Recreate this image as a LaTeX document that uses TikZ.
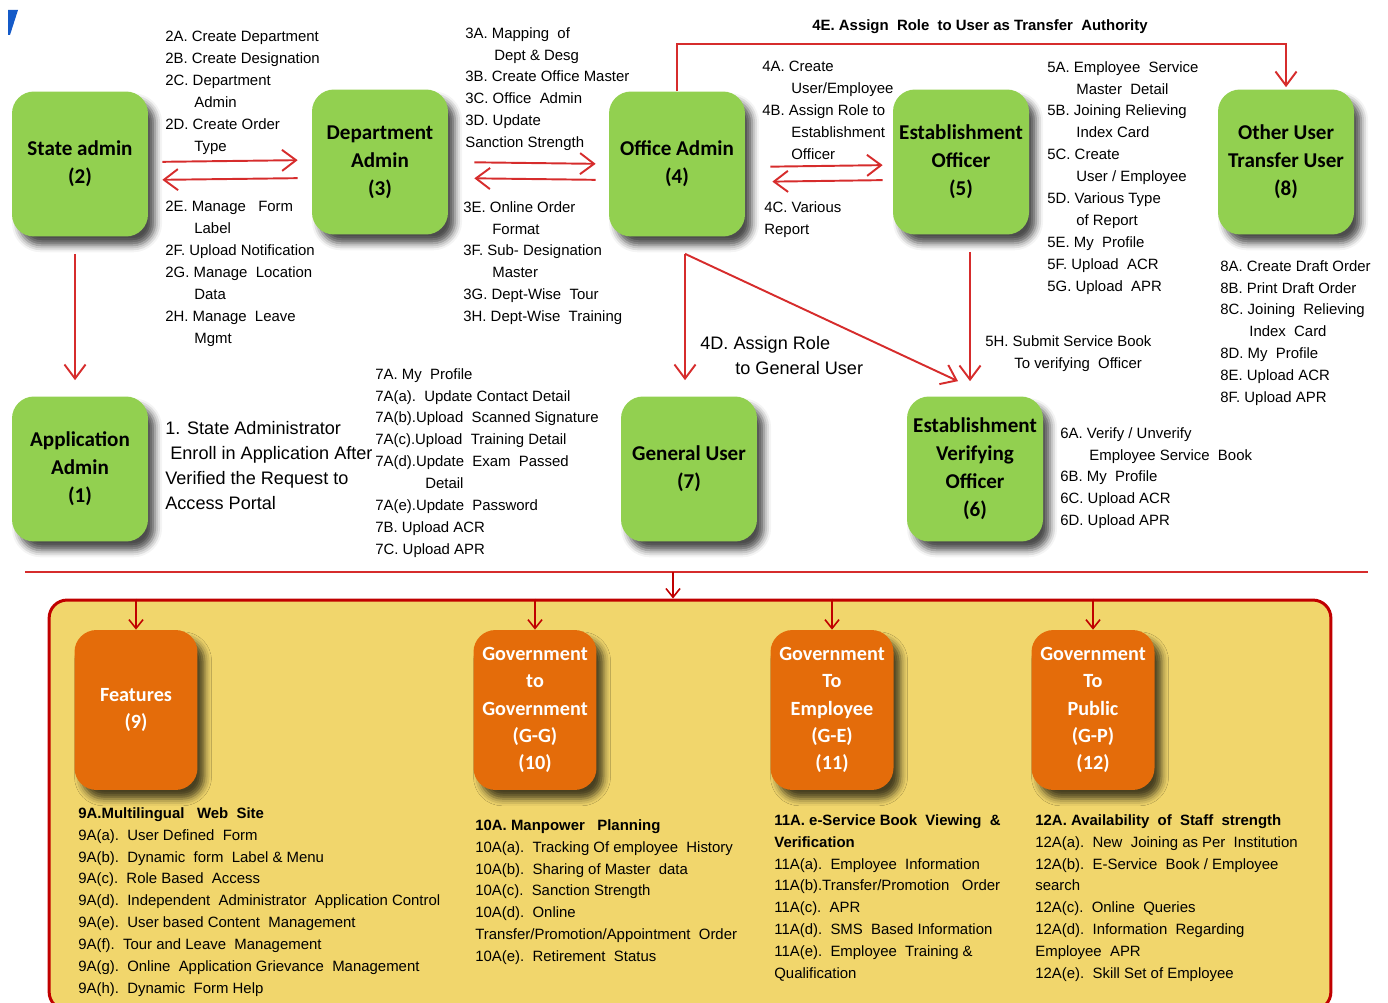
\documentclass[tikz,border=0pt]{standalone}
\usepackage{fontspec}
\setmainfont{Liberation Sans}
\newfontfamily\boxfont{Carlito}
\usetikzlibrary{arrows.meta, shadows.blur}
\definecolor{boxgreen}{RGB}{146,208,80}
\definecolor{boxorange}{RGB}{228,108,10}
\definecolor{panelyellow}{RGB}{241,214,108}
\definecolor{panelred}{RGB}{192,0,0}
\definecolor{linkred}{RGB}{214,44,44}
\definecolor{markblue}{RGB}{20,90,200}
\newcommand{\indnt}{\hspace*{0.58cm}}

\begin{document}
\begin{tikzpicture}[x=0.02cm, y=-0.02cm,
  main node/.style={rounded corners=0.44cm, fill=boxgreen, minimum width=2.72cm,
    minimum height=2.9cm, align=center, inner sep=2pt,
    blur shadow={shadow xshift=4pt, shadow yshift=-5pt, shadow blur radius=4pt, shadow opacity=70},
    font=\fontsize{12}{16}\boxfont\bfseries},
  feat node/.style={main node, fill=boxorange, text=white, minimum width=2.46cm,
    minimum height=3.2cm, font=\fontsize{11.5}{15.5}\boxfont\bfseries},
  note/.style={anchor=north west, inner sep=0pt, align=left, text=black,
    font=\fontsize{8.5}{12.47}\selectfont},
  big note/.style={note, font=\fontsize{10.3}{14.2}\selectfont},
  link/.style={draw=linkred, line width=1.1pt, -{Straight Barb[length=8pt,width=12pt]}},
  small link/.style={draw=panelred, line width=0.9pt, -{Straight Barb[length=5pt,width=8pt]}}]

  \useasboundingbox (0,0) rectangle (1388,1003);
  \fill[markblue] (8,10) -- (18,10) -- (10,35) -- (8,35) -- cycle;

  \node[draw=panelred, line width=1.7pt, fill=panelyellow, rounded corners=0.36cm,
    minimum width=25.64cm, minimum height=8.2cm, inner sep=0pt] (panel) at (690,805) {};

  \node[main node] (2) at (80,164) {State admin\\(2)};
  \node[main node] (3) at (380,162) {Department\\Admin\\(3)};
  \node[main node] (4) at (677,164) {Office Admin\\(4)};
  \node[main node] (5) at (961,162) {Establishment\\Officer\\(5)};
  \node[main node] (8) at (1286,162) {Other User\\Transfer User\\(8)};
  \node[main node] (1) at (80,469) {Application\\Admin\\(1)};
  \node[main node] (7) at (689,469) {General User\\(7)};
  \node[main node] (6) at (975,469) {Establishment\\Verifying\\Officer\\(6)};

  \node[feat node] (9) at (136,710) {Features\\(9)};
  \node[feat node] (10) at (535,710) {Government\\to\\Government\\(G-G)\\(10)};
  \node[feat node] (11) at (832,710) {Government\\To\\Employee\\(G-E)\\(11)};
  \node[feat node] (12) at (1093,710) {Government\\To\\Public\\(G-P)\\(12)};

  \draw[link, shorten <=0.28cm, shorten >=0.28cm] ([yshift=0.04cm]2.east) -- ([yshift=0.04cm]3.west);
  \draw[link, shorten <=0.28cm, shorten >=0.28cm] ([yshift=-0.32cm]3.west) -- ([yshift=-0.32cm]2.east);
  \draw[link, shorten <=0.52cm, shorten >=0.26cm] (3.east) -- (4.west);
  \draw[link, shorten <=0.26cm, shorten >=0.52cm] ([yshift=-0.32cm]4.west) -- ([yshift=-0.32cm]3.east);
  \draw[link, shorten <=0.5cm, shorten >=0.2cm] ([yshift=-0.06cm]4.east) -- ([yshift=-0.06cm]5.west);
  \draw[link, shorten <=0.2cm, shorten >=0.54cm] ([yshift=-0.36cm]5.west) -- ([yshift=-0.36cm]4.east);
  \draw[link, shorten >=0.04cm] (4.north) -- ++(0,-47) -| (8.north);
  \draw[link, shorten <=0.34cm, shorten >=0.32cm] ([xshift=-0.1cm]2.south) -- ([xshift=-0.1cm]1.north);
  \draw[link, shorten <=0.34cm, shorten >=0.32cm] ([xshift=0.16cm]4.south) -- ([xshift=0.16cm]4.south |- 7.north);
  \draw[link] ([xshift=0.16cm,yshift=-0.34cm]4.south) -- ([xshift=-0.34cm,yshift=0.3cm]6.north);
  \draw[link, shorten <=0.34cm, shorten >=0.3cm] ([xshift=0.18cm]5.south) -- ([xshift=0.18cm]5.south |- 6.north);

  \coordinate (bar-l) at (25,572);
  \coordinate (bar-r) at (1368,572);
  \coordinate (bar-m) at (673,572);
  \draw[draw=linkred, line width=1.1pt] (bar-l) -- (bar-r);
  \draw[small link] (bar-m) -- (bar-m |- panel.north);
  \foreach \n in {9,10,11,12}
    \draw[small link] (\n.north |- panel.north) -- (\n.north);

  \node[note] (t2a) at (165,31) {2A. Create Department\\2B. Create Designation\\2C. Department\\\indnt Admin\\2D. Create Order\\\indnt Type};
  \node[note] (t2e) at (165,201) {2E. Manage\ \ \ Form\\\indnt Label\\2F. Upload Notification\\2G. Manage\ \ Location\\\indnt Data\\2H. Manage\ \ Leave\\\indnt Mgmt};
  \node[note] (t3a) at (465,27) {3A. Mapping\ \ of\\\indnt Dept \& Desg\\3B. Create Office Master\\3C. Office\ \ Admin\\3D. Update\\Sanction Strength};
  \node[note] (t3e) at (463,201) {3E. Online Order\\\indnt Format\\3F. Sub- Designation\\\indnt Master\\3G. Dept-Wise\ \ Tour\\3H. Dept-Wise\ \ Training};
  \node[note] (t4e) at (812,19) {\textbf{4E. Assign\ \ Role\ \ to User as Transfer\ \ Authority}};
  \node[note] (t4a) at (762,61) {4A. Create\\\indnt User/Employee\\4B. Assign Role to\\\indnt Establishment\\\indnt Officer};
  \node[note] (t4c) at (764,201) {4C. Various\\Report};
  \node[note] (t5a) at (1047,61) {5A. Employee\ \ Service\\\indnt Master\ \ Detail\\5B. Joining Relieving\\\indnt Index Card\\5C. Create\\\indnt User / Employee\\5D. Various Type\\\indnt of Report\\5E. My\ \ Profile\\5F. Upload\ \ ACR\\5G. Upload\ \ APR};
  \node[note] (t5h) at (985,335) {5H. Submit Service Book\\\indnt To verifying\ \ Officer};
  \node[note] (t8a) at (1220,260) {8A. Create Draft Order\\8B. Print Draft Order\\8C. Joining\ \ Relieving\\\indnt Index\ \ Card\\8D. My\ \ Profile\\8E. Upload ACR\\8F. Upload APR};
  \node[big note] (t4d) at (700,336) {4D. Assign Role\\\hspace*{0.7cm}to General User};
  \node[big note] (t1) at (165,421) {1. State Administrator\\\hspace*{0.1cm}Enroll in Application After\\Verified the Request to\\Access Portal};
  \node[note] (t7a) at (375,368) {7A. My\ \ Profile\\7A(a).\ \ Update Contact Detail\\7A(b).Upload\ \ Scanned Signature\\7A(c).Upload\ \ Training Detail\\7A(d).Update\ \ Exam\ \ Passed\\\hspace*{1cm}Detail\\7A(e).Update\ \ Password\\7B. Upload ACR\\7C. Upload APR};
  \node[note] (t6a) at (1060,427) {6A. Verify / Unverify\\\indnt Employee Service\ \ Book\\6B. My\ \ Profile\\6C. Upload ACR\\6D. Upload APR};

  \node[note] (t9a) at (78,807) {\textbf{9A.Multilingual\ \ \ Web\ \ Site}\\9A(a).\ \ User Defined\ \ Form\\9A(b).\ \ Dynamic\ \ form\ \ Label \& Menu\\9A(c).\ \ Role Based\ \ Access\\9A(d).\ \ Independent\ \ Administrator\ \ Application Control\\9A(e).\ \ User based Content\ \ Management\\9A(f).\ \ Tour and Leave\ \ Management\\9A(g).\ \ Online\ \ Application Grievance\ \ Management\\9A(h).\ \ Dynamic\ \ Form Help};
  \node[note] (t10a) at (475,819) {\textbf{10A. Manpower\ \ \ Planning}\\10A(a).\ \ Tracking Of employee\ \ History\\10A(b).\ \ Sharing of Master\ \ data\\10A(c).\ \ Sanction Strength\\10A(d).\ \ Online\\Transfer/Promotion/Appointment\ \ Order\\10A(e).\ \ Retirement\ \ Status};
  \node[note] (t11a) at (774,814) {\textbf{11A. e-Service Book\ \ Viewing\ \ \&}\\\textbf{Verification}\\11A(a).\ \ Employee\ \ Information\\11A(b).Transfer/Promotion\ \ \ Order\\11A(c).\ \ APR\\11A(d).\ \ SMS\ \ Based Information\\11A(e).\ \ Employee\ \ Training \&\\Qualification};
  \node[note] (t12a) at (1035,814) {\textbf{12A. Availability\ \ of\ \ Staff\ \ strength}\\12A(a).\ \ New\ \ Joining as Per\ \ Institution\\12A(b).\ \ E-Service\ \ Book / Employee\\search\\12A(c).\ \ Online\ \ Queries\\12A(d).\ \ Information\ \ Regarding\\Employee\ \ APR\\12A(e).\ \ Skill Set of Employee};
\end{tikzpicture}
\end{document}
